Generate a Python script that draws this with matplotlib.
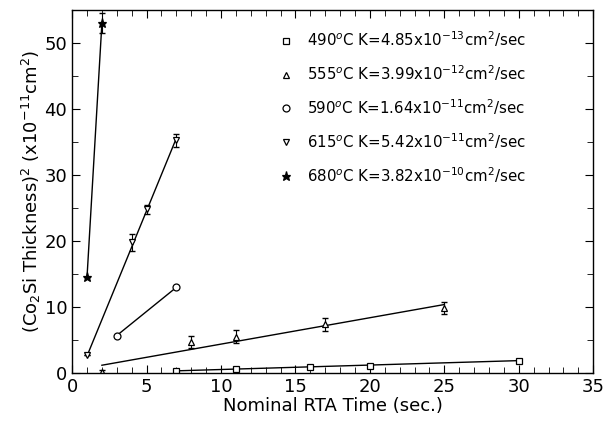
import numpy as np
import matplotlib
matplotlib.use('Agg')
import matplotlib.pyplot as plt
from matplotlib.ticker import MultipleLocator

plt.rcParams['font.family'] = ['DejaVu Sans']

# measured points (time in sec, thickness^2 in 1e-11 cm^2)
t490 = [7, 11, 16, 20, 30]
y490 = [0.4, 0.6, 1.0, 1.1, 1.8]
e490 = [0.0, 0.0, 0.0, 0.0, 0.0]
fit490_t = [7, 30]
fit490_y = [0.35, 1.9]

t555 = [2, 8, 11, 17, 25]
y555 = [0.2, 4.7, 5.5, 7.4, 9.9]
e555 = [0.3, 0.9, 1.0, 1.0, 0.9]
fit555_t = [2, 25]
fit555_y = [1.2, 10.4]

t590 = [3, 7]
y590 = [5.7, 13.0]
e590 = [0.0, 0.0]
fit590_t = [3, 7]
fit590_y = [5.7, 13.0]

t615 = [1, 4, 5, 7]
y615 = [2.7, 19.8, 24.8, 35.3]
e615 = [0.0, 1.3, 0.7, 1.0]
fit615_t = [1, 7]
fit615_y = [2.6, 35.6]

t680 = [1, 2]
y680 = [14.5, 53.0]
e680 = [0.0, 1.5]
fit680_t = [1, 2]
fit680_y = [14.5, 53.0]

labels = ['490$^o$C K=4.85x10$^{-13}$cm$^2$/sec',
          '555$^o$C K=3.99x10$^{-12}$cm$^2$/sec',
          '590$^o$C K=1.64x10$^{-11}$cm$^2$/sec',
          '615$^o$C K=5.42x10$^{-11}$cm$^2$/sec',
          '680$^o$C K=3.82x10$^{-10}$cm$^2$/sec']

fig = plt.figure(figsize=(6.06, 4.25), dpi=100)
ax = fig.add_axes([0.119, 0.122, 0.860, 0.854])

series = [(t490, y490, e490, fit490_t, fit490_y, 's'),
          (t555, y555, e555, fit555_t, fit555_y, '^'),
          (t590, y590, e590, fit590_t, fit590_y, 'o'),
          (t615, y615, e615, fit615_t, fit615_y, 'v'),
          (t680, y680, e680, fit680_t, fit680_y, '*')]

handles = []
for (t, y, e, ft, fy, mk), lab in zip(series, labels):
    ax.plot(ft, fy, color='black', lw=1.0)
    ax.errorbar(t, y, yerr=e, fmt='none', ecolor='black', elinewidth=0.8, capsize=2)
    h, = ax.plot(t, y, linestyle='none', marker=mk, markersize=5 if mk != '*' else 6.5,
                 markerfacecolor='white' if mk != '*' else 'black', markeredgecolor='black',
                 markeredgewidth=0.9, label=lab)
    handles.append(h)

ax.set_xlim(0, 35)
ax.set_ylim(0, 55)
ax.xaxis.set_major_locator(MultipleLocator(5))
ax.xaxis.set_minor_locator(MultipleLocator(1))
ax.yaxis.set_major_locator(MultipleLocator(10))
ax.yaxis.set_minor_locator(MultipleLocator(5))
ax.tick_params(which='both', direction='in', top=True, right=True, labelsize=13)
ax.tick_params(which='major', length=6)
ax.tick_params(which='minor', length=4)
for s in ax.spines.values():
    s.set_linewidth(1.0)

ax.set_xlabel('Nominal RTA Time (sec.)', fontsize=13, labelpad=1)
ax.set_ylabel('(Co$_2$Si Thickness)$^2$ (x10$^{-11}$cm$^2$)', fontsize=13, labelpad=1)

ax.legend(handles=handles, loc='upper left', bbox_to_anchor=(0.37, 0.985), frameon=False,
          fontsize=10.8, handletextpad=0.9, labelspacing=0.95, handlelength=1.0)

fig.savefig('out.png', dpi=100)
